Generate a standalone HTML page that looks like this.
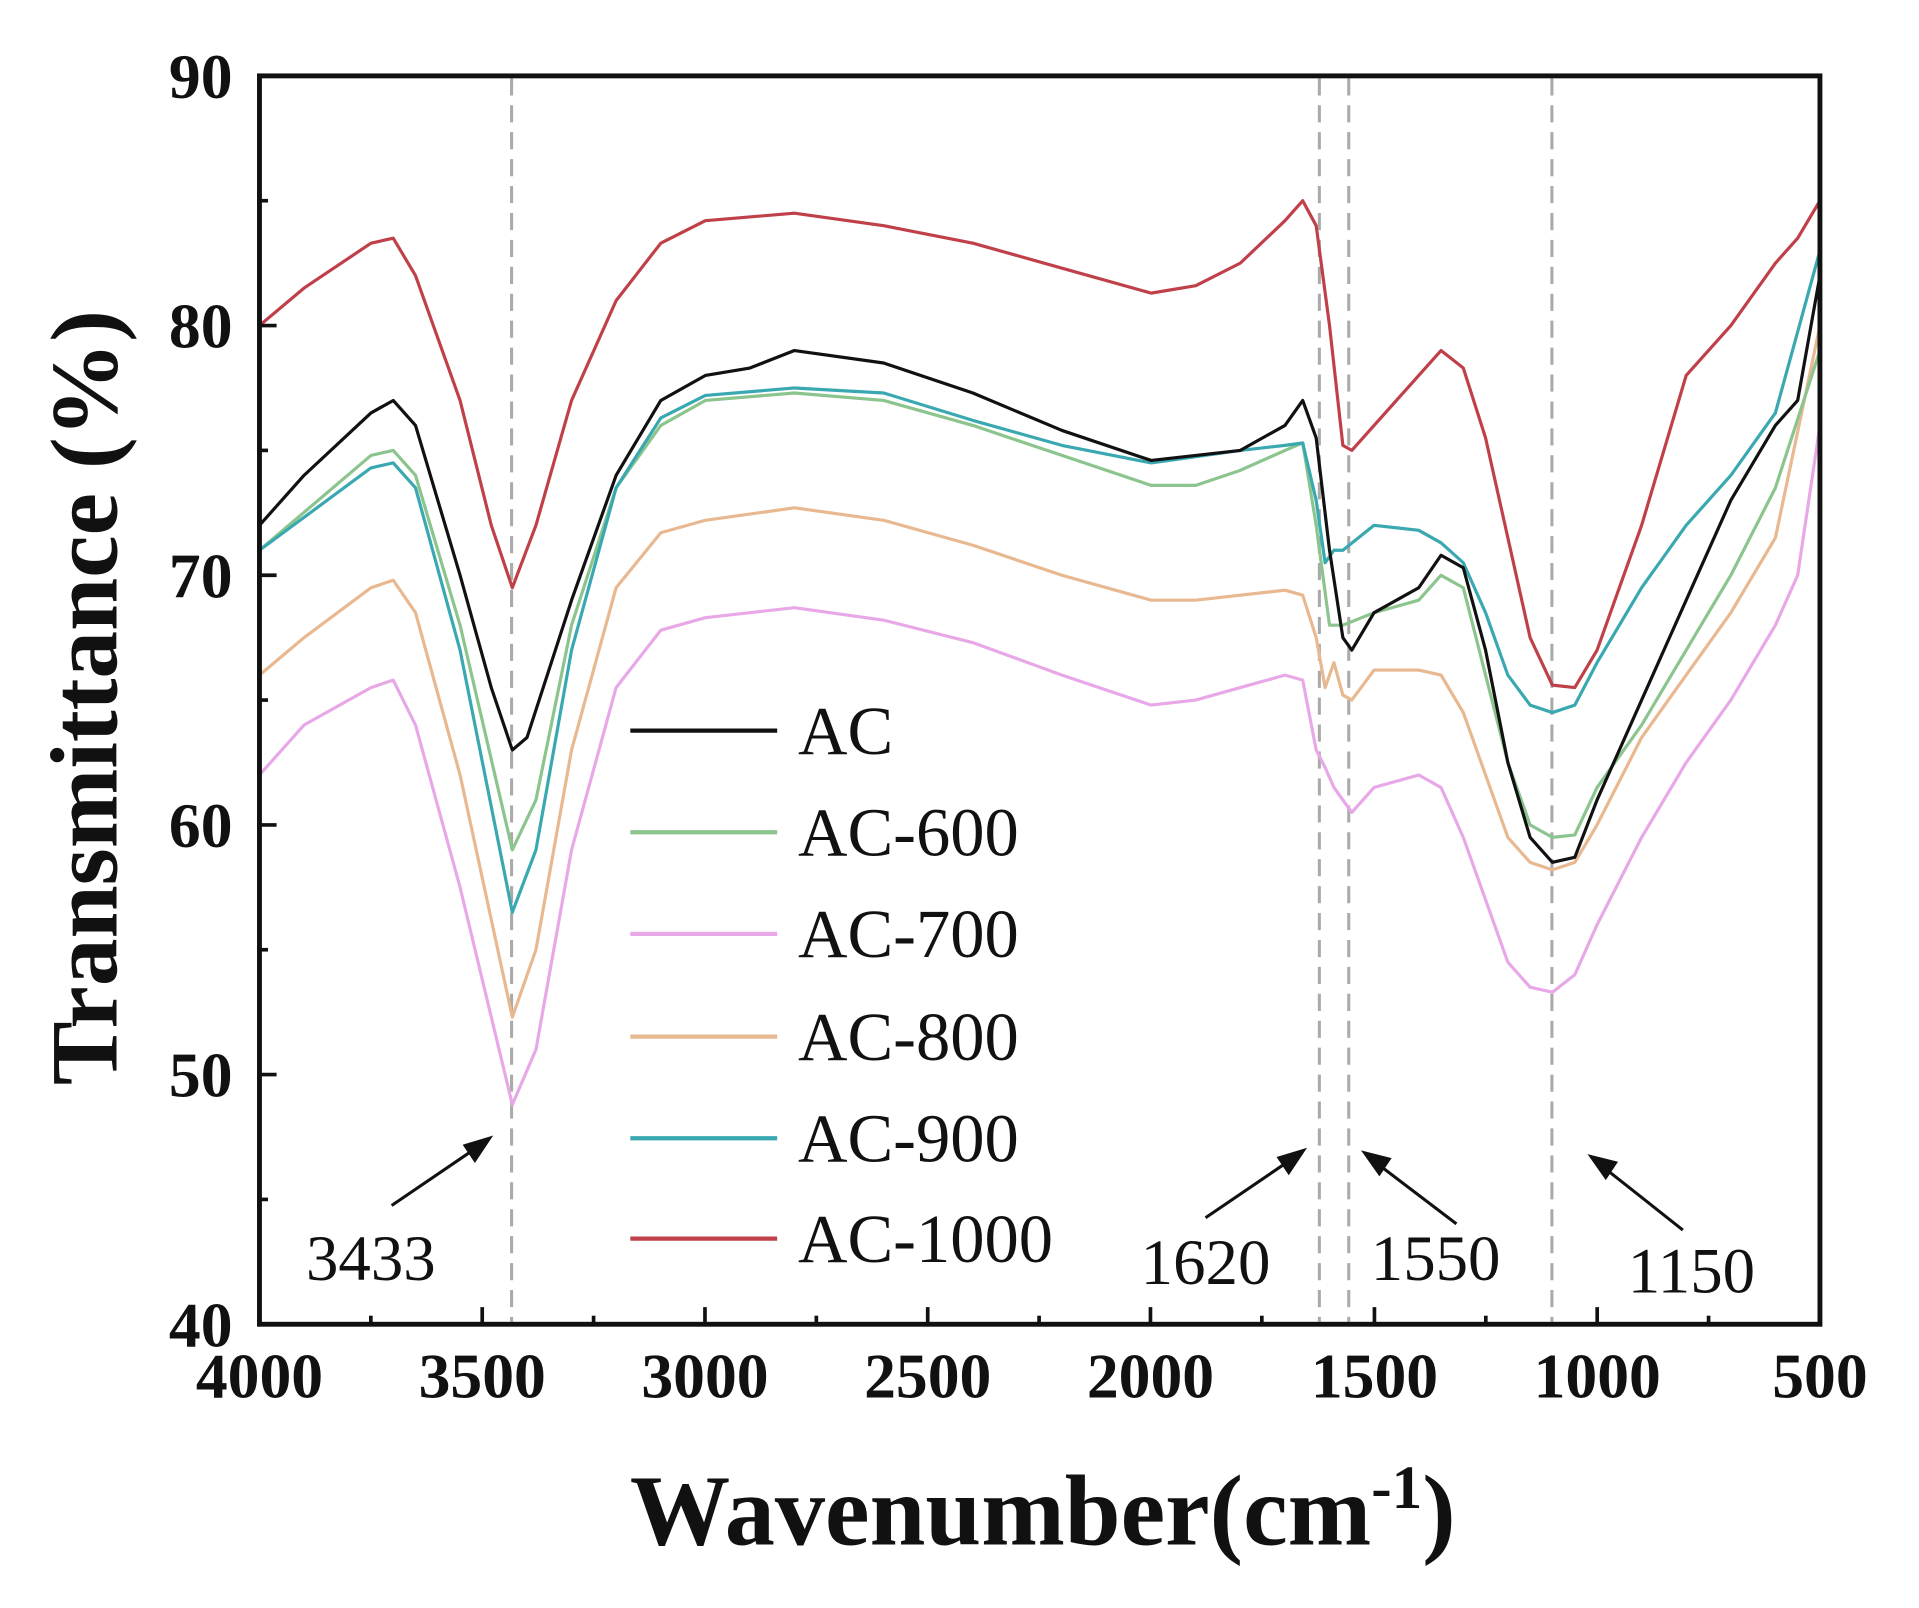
<!DOCTYPE html>
<html><head><meta charset="utf-8"><style>html,body{margin:0;padding:0;background:#fff;}svg{display:block}</style></head>
<body>
<svg width="1919" height="1608" viewBox="0 0 1919 1608" xmlns="http://www.w3.org/2000/svg">
<g transform="scale(1.2239)" font-family="'Liberation Serif', serif">
<rect x="0" y="0" width="1568" height="1314" fill="#fff"/>
<g stroke="#aaa" stroke-width="2.5" stroke-dasharray="14,8">
<line x1="418" y1="64" x2="418" y2="1080"/>
<line x1="1078" y1="64" x2="1078" y2="1080"/>
<line x1="1102" y1="64" x2="1102" y2="1080"/>
<line x1="1268" y1="64" x2="1268" y2="1080"/>
</g>
<g id="curves" fill="none" stroke-width="2.6" stroke-linejoin="round"></g>
<rect x="212" y="62" width="1275" height="1020" fill="none" stroke="#111" stroke-width="4"/>
<g stroke="#111" stroke-width="3">
<line x1="394" y1="1082" x2="394" y2="1068"/><line x1="576" y1="1082" x2="576" y2="1068"/><line x1="758" y1="1082" x2="758" y2="1068"/><line x1="940" y1="1082" x2="940" y2="1068"/><line x1="1123" y1="1082" x2="1123" y2="1068"/><line x1="1305" y1="1082" x2="1305" y2="1068"/>
<line x1="303" y1="1082" x2="303" y2="1075"/><line x1="485" y1="1082" x2="485" y2="1075"/><line x1="667" y1="1082" x2="667" y2="1075"/><line x1="849" y1="1082" x2="849" y2="1075"/><line x1="1031" y1="1082" x2="1031" y2="1075"/><line x1="1214" y1="1082" x2="1214" y2="1075"/><line x1="1396" y1="1082" x2="1396" y2="1075"/>
<line x1="212" y1="266" x2="226" y2="266"/><line x1="212" y1="470" x2="226" y2="470"/><line x1="212" y1="674" x2="226" y2="674"/><line x1="212" y1="878" x2="226" y2="878"/>
<line x1="212" y1="164" x2="219" y2="164"/><line x1="212" y1="368" x2="219" y2="368"/><line x1="212" y1="572" x2="219" y2="572"/><line x1="212" y1="776" x2="219" y2="776"/><line x1="212" y1="980" x2="219" y2="980"/>
</g>
<g font-weight="bold" font-size="52" fill="#111" text-anchor="end">
<text x="190" y="80">90</text><text x="190" y="284">80</text><text x="190" y="488">70</text><text x="190" y="692">60</text><text x="190" y="896">50</text><text x="190" y="1100">40</text>
</g>
<g font-weight="bold" font-size="52" fill="#111" text-anchor="middle">
<text x="212" y="1142">4000</text><text x="394" y="1142">3500</text><text x="576" y="1142">3000</text><text x="758" y="1142">2500</text><text x="940" y="1142">2000</text><text x="1123" y="1142">1500</text><text x="1305" y="1142">1000</text><text x="1487" y="1142">500</text>
</g>
<text x="852" y="1262" font-weight="bold" font-size="82" text-anchor="middle" fill="#111">Wavenumber(cm<tspan font-size="50" dy="-30">-1</tspan><tspan dy="30">)</tspan></text>
<text transform="translate(95,570) rotate(-90)" font-weight="bold" font-size="78" text-anchor="middle" fill="#111">Transmittance (%)</text>
<g stroke-width="3.5">
<line x1="515" y1="597" x2="635" y2="597" stroke="#111"/>
<line x1="515" y1="680" x2="635" y2="680" stroke="#8cc48e"/>
<line x1="515" y1="763" x2="635" y2="763" stroke="#e8a8e8"/>
<line x1="515" y1="847" x2="635" y2="847" stroke="#e8b890"/>
<line x1="515" y1="930" x2="635" y2="930" stroke="#3aa8b0"/>
<line x1="515" y1="1012" x2="635" y2="1012" stroke="#c0404a"/>
</g>
<g font-size="56" fill="#111">
<text x="652" y="616">AC</text><text x="652" y="699">AC-600</text><text x="652" y="782">AC-700</text><text x="652" y="866">AC-800</text><text x="652" y="949">AC-900</text><text x="652" y="1031">AC-1000</text>
</g>
<g font-size="53" fill="#111">
<text x="250" y="1046">3433</text><text x="932" y="1049">1620</text><text x="1120" y="1046">1550</text><text x="1330" y="1056">1150</text>
</g>
<g stroke="#111" stroke-width="2.5" fill="#111">
<line x1="320" y1="985" x2="392" y2="936"/><polygon points="400,930 380,936 388,948"/>
<line x1="985" y1="995" x2="1057" y2="946"/><polygon points="1065,940 1045,946 1053,958"/>
<line x1="1190" y1="1000" x2="1123" y2="949"/><polygon points="1115,942 1127,959 1135,947"/>
<line x1="1375" y1="1005" x2="1308" y2="952"/><polygon points="1300,945 1312,962 1320,950"/>
</g>
</g>
</svg>
<script>
var D={
"#e8a8e8":"4000:62,3900:64,3750:65.5,3700:65.8,3650:64,3550:57.5,3433:48.8,3380:51,3300:59,3200:65.5,3100:67.8,3000:68.3,2800:68.7,2600:68.2,2400:67.3,2200:66,2000:64.8,1900:65,1800:65.5,1700:66,1660:65.8,1630:63,1610:62.3,1590:61.5,1570:61,1550:60.5,1500:61.5,1400:62,1350:61.5,1300:59.5,1250:57,1200:54.5,1150:53.5,1100:53.3,1050:54,1000:56,900:59.5,800:62.5,700:65,600:68,550:70,500:76",
"#e8b890":"4000:66,3900:67.5,3750:69.5,3700:69.8,3650:68.5,3550:62,3433:52.3,3380:55,3300:63,3200:69.5,3100:71.7,3000:72.2,2800:72.7,2600:72.2,2400:71.2,2200:70,2000:69,1900:69,1800:69.2,1700:69.4,1660:69.2,1630:67.5,1610:65.5,1590:66.5,1570:65.2,1550:65,1500:66.2,1400:66.2,1350:66,1300:64.5,1250:62,1200:59.5,1150:58.5,1100:58.2,1050:58.5,1000:60,900:63.5,800:66,700:68.5,600:71.5,500:80",
"#8cc48e":"4000:71,3750:74.8,3700:75,3650:74,3550:68,3433:59,3380:61,3300:68,3200:73.5,3100:76,3000:77,2800:77.3,2600:77,2400:76,2200:74.8,2000:73.6,1900:73.6,1800:74.2,1700:75,1660:75.3,1630:72,1600:68,1570:68,1500:68.5,1400:69,1350:70,1300:69.5,1250:66,1200:62.5,1150:60,1100:59.5,1050:59.6,1000:61.5,900:64,800:67,700:70,600:73.5,500:79",
"#3aa8b0":"4000:71,3750:74.3,3700:74.5,3650:73.5,3550:67,3433:56.5,3380:59,3300:67,3200:73.5,3100:76.3,3000:77.2,2800:77.5,2600:77.3,2400:76.2,2200:75.2,2000:74.5,1800:75,1700:75.2,1660:75.3,1630:73,1610:70.5,1590:71,1570:71,1500:72,1400:71.8,1350:71.3,1300:70.5,1250:68.5,1200:66,1150:64.8,1100:64.5,1050:64.8,1000:66.5,900:69.5,800:72,700:74,600:76.5,500:83",
"#111":"4000:72,3900:74,3750:76.5,3700:77,3650:76,3550:70,3480:65.5,3433:63,3400:63.5,3300:69,3200:74,3100:77,3000:78,2900:78.3,2800:79,2600:78.5,2400:77.3,2200:75.8,2000:74.6,1800:75,1700:76,1660:77,1630:75.5,1600:71,1570:67.5,1550:67,1500:68.5,1400:69.5,1350:70.8,1300:70.3,1250:67,1200:62.5,1150:59.5,1100:58.5,1050:58.7,1000:61,900:65,800:69,700:73,600:76,550:77,500:82",
"#c0404a":"4000:80,3900:81.5,3750:83.3,3700:83.5,3650:82,3550:77,3480:72,3433:69.5,3380:72,3300:77,3200:81,3100:83.3,3000:84.2,2800:84.5,2600:84,2400:83.3,2200:82.3,2000:81.3,1900:81.6,1800:82.5,1700:84.2,1660:85,1630:84,1600:80,1570:75.2,1550:75,1500:76,1400:78,1350:79,1300:78.3,1250:75.5,1200:71.5,1150:67.5,1100:65.6,1050:65.5,1000:67,900:72,800:78,700:80,600:82.5,550:83.5,500:85"};
var g=document.getElementById("curves"),ns="http://www.w3.org/2000/svg";
for(var c in D){var pts=D[c].split(",").map(function(p){var a=p.split(":");var w=+a[0],t=+a[1];return (212+(4000-w)*0.36429).toFixed(1)+","+(1082-(t-40)*20.4).toFixed(1);}).join(" ");
var pl=document.createElementNS(ns,"polyline");pl.setAttribute("points",pts);pl.setAttribute("stroke",c);g.appendChild(pl);}
</script>
</body></html>
